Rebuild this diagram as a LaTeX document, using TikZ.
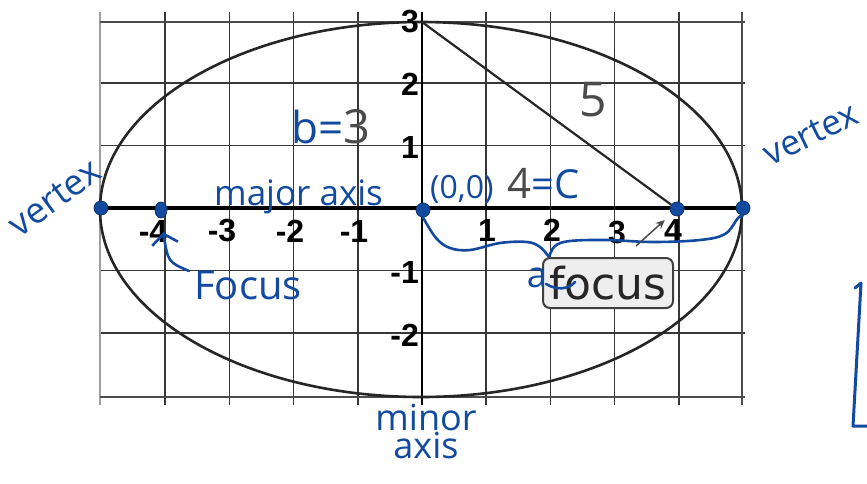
\documentclass[tikz,border=0pt]{standalone}
\usepackage{fontspec}
\usetikzlibrary{arrows.meta,shapes.geometric}
\newfontfamily\handf{Open Sans}
\newfontfamily\printf{Open Sans}
\newfontfamily\boxf{DejaVu Sans}
\newfontfamily\numf{Liberation Sans}
\newcommand\fsz[1]{\fontsize{#1}{#1}\selectfont}
\definecolor{ink}{RGB}{18,74,160}
\definecolor{gridc}{RGB}{55,55,55}
\definecolor{prt}{RGB}{75,75,75}
\tikzset{
  gridline/.style={gridc, line width=1.6pt},
  border/.style={gray!75, line width=2.6pt},
  dot/.style={circle, fill=ink, draw=ink!70!black, line width=0.8pt, inner sep=0pt, minimum size=14pt},
  hand/.style={text=ink, inner sep=0pt},
  prtxt/.style={text=prt, inner sep=0pt},
  axnum/.style={text=black, inner sep=0pt, font={\numf\bfseries\fsz{32}}},
  inkline/.style={ink, line width=2.6pt, line cap=round, line join=round}
}
\begin{document}
\begin{tikzpicture}[x=1pt,y=-1pt]
\useasboundingbox[fill=white] (0,0) rectangle (867,483);
% grid
\foreach \i in {-4,...,4} {
  \draw[gridline] ({422+64.2*\i},12) -- ({422+64.2*\i},405);
}
\foreach \j in {-2,-1,1,2} {
  \draw[gridline] (100,{208-62.5*\j}) -- (745,{208-62.5*\j});
}
\draw[border] (100,12) -- (100,405);
\draw[border, gray!60!black] (742,12) -- (742,405);
\draw[border, gray!60!black] (100,22) -- (745,22);
\draw[border, gray!60!black] (100,397) -- (745,397);
% axes
\draw[black, line width=2.2pt] (422,12) -- (422,405);
\draw[black, line width=3.2pt] (100,208) -- (745,208);
% ellipse
\draw[black!85, line width=2.6pt] (421,209.5) ellipse [x radius=321pt, y radius=187.5pt];
% axis numbers
\node[axnum] (xm4) at (153,231) {-4};
\node[axnum] (xm3) at (222,231) {-3};
\node[axnum] (xm2) at (290,231) {-2};
\node[axnum] (xm1) at (354,231) {-1};
\node[axnum] (xp1) at (487,230) {1};
\node[axnum] (xp2) at (552,230) {2};
\node[axnum] (xp3) at (617,232) {3};
\node[axnum] (xp4) at (673,230) {4};
\node[axnum, anchor=east] (y3) at (419,22) {3};
\node[axnum, anchor=east] (y2) at (419,84) {2};
\node[axnum, anchor=east] (y1) at (419,147) {1};
\node[axnum, anchor=east] (ym1) at (419,272) {-1};
\node[axnum, anchor=east] (ym2) at (419,335) {-2};
% key points
\coordinate (T) at (422,22);
\node[dot] (VL) at (101,208) {};
\node[dot, ellipse, minimum width=12pt, minimum height=16pt] (FL) at (161,210) {};
\node[dot] (O) at (423,210) {};
\node[dot] (FR) at (677,209) {};
\node[dot] (VR) at (743,208) {};
% triangle side
\draw[black!85, line width=2.2pt] (T) -- (FR);
% printed gray labels
\node[prtxt, font={\printf\fsz{48}}, anchor=base] (five) at (593,116) {5};
\node[anchor=base west, inner sep=0pt] (bl) at (291,143) {\color{ink}\handf\fsz{44}b=\color{prt}\printf\fsz{47}3};
\node[anchor=base west, inner sep=0pt] (cl) at (430,198) {\color{ink}\handf\fsz{32}(0,0)\hspace{14pt}\color{prt}\printf\fsz{42}4\color{ink}\handf\fsz{40}=C};
% handwriting
\node[hand, font={\handf\fsz{35}}, anchor=base west] (maj) at (214,205) {major axis};
\node[hand, font={\handf\fsz{36}}, rotate=36] (vl) at (55,198) {vertex};
\node[hand, font={\handf\fsz{35}}, rotate=26] (vr) at (811,134) {vertex};
\node[hand, font={\handf\fsz{40}}, anchor=base west] (foc) at (194,299) {Focus};
\node[hand, font={\handf\fsz{36}}, align=center, anchor=north] (minor) at (426,404) {minor\\[-8pt]axis};
\coordinate (fa) at (189,271);
\draw[inkline, -{Straight Barb[length=10pt, width=26pt]}, shorten >=14pt] (fa) .. controls (168,262) .. (FL.south);
% brace under positive axis
\draw[inkline] plot[smooth, tension=0.6] coordinates {(O.south) (436,238) (450,248) (470,250) (500,243) (527,242) (540,247) (549,257)};
\draw[inkline] plot[smooth, tension=0.6] coordinates {(549,257) (555,246) (570,241) (607,240) (653,242) (700,240) (725,234) (738,218) (VR.south)};
% focus box
\node[draw=black!75, fill=gray!13, line width=2pt, rounded corners=7pt, minimum width=130pt, minimum height=50pt, inner sep=0pt, font={\boxf\fsz{44}}, text=black!85] (fbox) at (608,283) {focus};
\node[hand, font={\handf\fsz{36}}, anchor=base] (a) at (537,287) {a};
\draw[inkline] (546,284) .. controls (556,290) and (568,290) .. (575,282);
% gray arrow to right focus
\coordinate (ga) at (636,246);
\draw[gray!60!black, line width=1.5pt, -{Stealth[length=9pt,width=8pt]}, shorten >=9pt] (ga) -- (FR);
% partial bracket at right edge
\draw[inkline, line width=3pt] (855,288) -- (861,283) -- (853,426) -- (870,426);
\end{tikzpicture}
\end{document}
